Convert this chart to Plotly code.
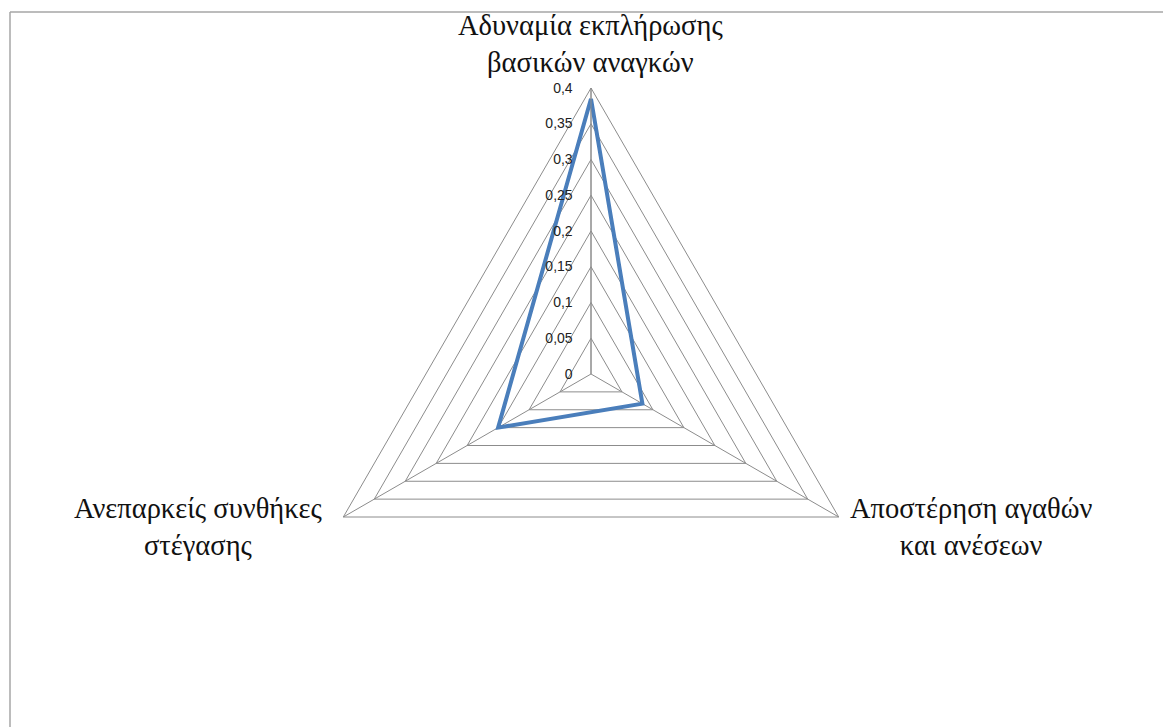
import plotly.graph_objects as go

categories = ['Αδυναμία εκπλήρωσης<br>βασικών αναγκών',
              'Αποστέρηση αγαθών<br>και ανέσεων',
              'Ανεπαρκείς συνθήκες<br>στέγασης']
values = [0.385, 0.083, 0.150]
radial_range = [0, 0.4]
radial_dtick = 0.05

# the page body has an 8px margin, so the figure is drawn 8px in
OFF = 8
W, H = 1171 - OFF, 727 - OFF
grid_col = '#8c8c8c'


def px(x):
    return (x - OFF) / W


def py(y):
    return 1 - (y - OFF) / H


fig = go.Figure()

fig.add_trace(go.Scatterpolar(
    r=values + values[:1],
    theta=categories + categories[:1],
    mode='lines',
    line=dict(color='#4a7ebb', width=4),
    hoverinfo='skip',
    showlegend=False,
))

fig.update_layout(
    width=W, height=H,
    margin=dict(l=0, r=0, t=0, b=0),
    paper_bgcolor='white',
    plot_bgcolor='white',
    separators=',.',
    polar=dict(
        domain=dict(x=[px(305), px(877)], y=[py(660), py(88)]),
        bgcolor='white',
        gridshape='linear',
        angularaxis=dict(
            rotation=90,
            direction='clockwise',
            showticklabels=False,
            ticks='',
            showline=True,
            linecolor=grid_col,
            linewidth=1,
            gridcolor=grid_col,
            gridwidth=1,
        ),
        radialaxis=dict(
            range=radial_range,
            dtick=radial_dtick,
            angle=90,
            tickangle=90,
            side='counterclockwise',
            showline=True,
            linecolor=grid_col,
            linewidth=1,
            gridcolor=grid_col,
            gridwidth=1,
            # invisible ticks just to push the labels away from the axis
            ticks='outside',
            ticklen=13,
            tickcolor='rgba(0,0,0,0)',
            tickfont=dict(family='Liberation Sans', size=14, color='#222'),
        ),
    ),
)

# category labels (centered, two lines each)
label_pos = [(590, 44), (971, 527), (198, 527)]
for text, (lx, ly) in zip(categories, label_pos):
    fig.add_annotation(
        x=px(lx), y=py(ly), xref='paper', yref='paper',
        text=text, showarrow=False, xanchor='center', yanchor='middle',
        align='center',
        font=dict(family='Liberation Serif', size=28.5, color='#111'),
    )

# chart frame
fig.add_shape(type='line', xref='paper', yref='paper',
              x0=px(10), x1=1, y0=py(12), y1=py(12),
              line=dict(color='#a6a6a6', width=1.5))
fig.add_shape(type='line', xref='paper', yref='paper',
              x0=px(10), x1=px(10), y0=0, y1=py(12),
              line=dict(color='#a6a6a6', width=1.5))

fig.write_html('out.html')
